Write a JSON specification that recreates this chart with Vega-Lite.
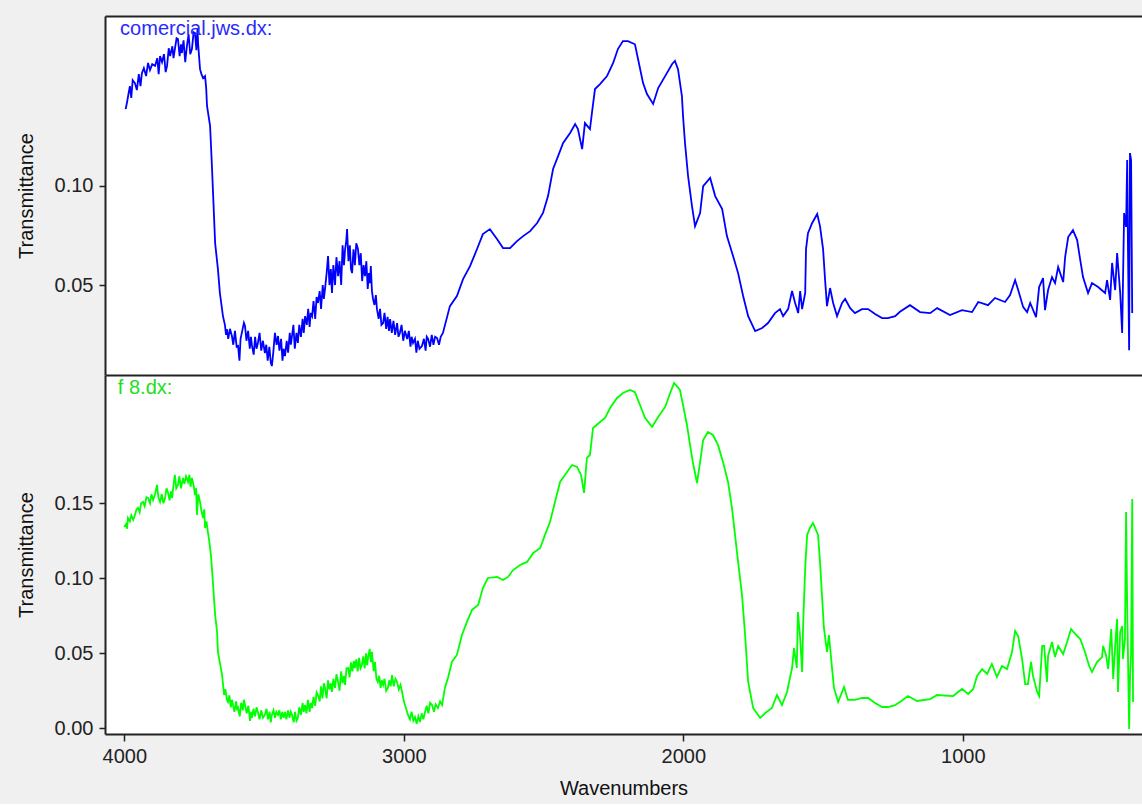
{
  "$schema": "https://vega.github.io/schema/vega-lite/v6.json",
  "background": "#f0f0f0",
  "padding": {"left": 16, "top": 16, "right": 0, "bottom": 6},
  "spacing": 0,
  "config": {
    "font": "Liberation Sans",
    "view": {"stroke": null, "fill": "white"},
    "axis": {
      "grid": false,
      "domainColor": "#222222",
      "domainWidth": 2,
      "tickColor": "#222222",
      "tickWidth": 1.5,
      "tickSize": 6,
      "labelFont": "Liberation Sans",
      "labelFontSize": 20,
      "labelColor": "#222222",
      "titleFont": "Liberation Sans",
      "titleFontSize": 20,
      "titleFontWeight": "normal",
      "titleColor": "#111111"
    }
  },
  "datasets": {
    "labels": [
      {"panel": "comercial", "label": "comercial.jws.dx:", "wavenumber": 4015, "transmittance": 0.1786},
      {"panel": "f8", "label": "f 8.dx:", "wavenumber": 4023, "transmittance": 0.2269}
    ],
    "comercial": [
      {"wavenumber": 3995, "transmittance": 0.1384},
      {"wavenumber": 3990, "transmittance": 0.1420},
      {"wavenumber": 3985, "transmittance": 0.1460},
      {"wavenumber": 3980, "transmittance": 0.1500},
      {"wavenumber": 3975, "transmittance": 0.1440},
      {"wavenumber": 3970, "transmittance": 0.1530},
      {"wavenumber": 3962, "transmittance": 0.1515},
      {"wavenumber": 3955, "transmittance": 0.1480},
      {"wavenumber": 3948, "transmittance": 0.1560},
      {"wavenumber": 3942, "transmittance": 0.1500},
      {"wavenumber": 3937, "transmittance": 0.1565},
      {"wavenumber": 3930, "transmittance": 0.1590},
      {"wavenumber": 3922, "transmittance": 0.1550},
      {"wavenumber": 3915, "transmittance": 0.1616},
      {"wavenumber": 3908, "transmittance": 0.1580},
      {"wavenumber": 3900, "transmittance": 0.1610},
      {"wavenumber": 3890, "transmittance": 0.1601},
      {"wavenumber": 3882, "transmittance": 0.1640},
      {"wavenumber": 3877, "transmittance": 0.1560},
      {"wavenumber": 3872, "transmittance": 0.1651},
      {"wavenumber": 3865, "transmittance": 0.1620},
      {"wavenumber": 3858, "transmittance": 0.1660},
      {"wavenumber": 3852, "transmittance": 0.1570},
      {"wavenumber": 3847, "transmittance": 0.1601},
      {"wavenumber": 3841, "transmittance": 0.1690},
      {"wavenumber": 3836, "transmittance": 0.1651},
      {"wavenumber": 3828, "transmittance": 0.1700},
      {"wavenumber": 3824, "transmittance": 0.1640},
      {"wavenumber": 3819, "transmittance": 0.1686},
      {"wavenumber": 3813, "transmittance": 0.1740},
      {"wavenumber": 3808, "transmittance": 0.1736},
      {"wavenumber": 3802, "transmittance": 0.1650},
      {"wavenumber": 3797, "transmittance": 0.1710},
      {"wavenumber": 3794, "transmittance": 0.1666},
      {"wavenumber": 3788, "transmittance": 0.1730},
      {"wavenumber": 3782, "transmittance": 0.1620},
      {"wavenumber": 3776, "transmittance": 0.1701},
      {"wavenumber": 3770, "transmittance": 0.1760},
      {"wavenumber": 3764, "transmittance": 0.1660},
      {"wavenumber": 3758, "transmittance": 0.1686},
      {"wavenumber": 3752, "transmittance": 0.1770},
      {"wavenumber": 3747, "transmittance": 0.1766},
      {"wavenumber": 3742, "transmittance": 0.1680},
      {"wavenumber": 3738, "transmittance": 0.1790},
      {"wavenumber": 3736, "transmittance": 0.1716},
      {"wavenumber": 3732, "transmittance": 0.1640},
      {"wavenumber": 3729, "transmittance": 0.1585},
      {"wavenumber": 3724, "transmittance": 0.1560},
      {"wavenumber": 3718, "transmittance": 0.1540},
      {"wavenumber": 3711, "transmittance": 0.1550},
      {"wavenumber": 3707, "transmittance": 0.1490},
      {"wavenumber": 3704, "transmittance": 0.1400},
      {"wavenumber": 3693, "transmittance": 0.1299},
      {"wavenumber": 3686, "transmittance": 0.1083},
      {"wavenumber": 3683, "transmittance": 0.0982},
      {"wavenumber": 3675, "transmittance": 0.0711},
      {"wavenumber": 3665, "transmittance": 0.0580},
      {"wavenumber": 3658, "transmittance": 0.0460},
      {"wavenumber": 3647, "transmittance": 0.0344},
      {"wavenumber": 3640, "transmittance": 0.0300},
      {"wavenumber": 3636, "transmittance": 0.0250},
      {"wavenumber": 3633, "transmittance": 0.0279},
      {"wavenumber": 3628, "transmittance": 0.0230},
      {"wavenumber": 3622, "transmittance": 0.0280},
      {"wavenumber": 3615, "transmittance": 0.0244},
      {"wavenumber": 3610, "transmittance": 0.0200},
      {"wavenumber": 3604, "transmittance": 0.0270},
      {"wavenumber": 3598, "transmittance": 0.0190},
      {"wavenumber": 3593, "transmittance": 0.0194},
      {"wavenumber": 3588, "transmittance": 0.0120},
      {"wavenumber": 3584, "transmittance": 0.0230},
      {"wavenumber": 3578, "transmittance": 0.0270},
      {"wavenumber": 3572, "transmittance": 0.0310},
      {"wavenumber": 3568, "transmittance": 0.0294},
      {"wavenumber": 3563, "transmittance": 0.0220},
      {"wavenumber": 3557, "transmittance": 0.0270},
      {"wavenumber": 3551, "transmittance": 0.0180},
      {"wavenumber": 3547, "transmittance": 0.0240},
      {"wavenumber": 3543, "transmittance": 0.0194},
      {"wavenumber": 3537, "transmittance": 0.0150},
      {"wavenumber": 3532, "transmittance": 0.0240},
      {"wavenumber": 3527, "transmittance": 0.0180},
      {"wavenumber": 3522, "transmittance": 0.0209},
      {"wavenumber": 3516, "transmittance": 0.0260},
      {"wavenumber": 3510, "transmittance": 0.0170},
      {"wavenumber": 3504, "transmittance": 0.0220},
      {"wavenumber": 3497, "transmittance": 0.0158},
      {"wavenumber": 3492, "transmittance": 0.0200},
      {"wavenumber": 3487, "transmittance": 0.0120},
      {"wavenumber": 3481, "transmittance": 0.0190},
      {"wavenumber": 3476, "transmittance": 0.0110},
      {"wavenumber": 3472, "transmittance": 0.0093},
      {"wavenumber": 3467, "transmittance": 0.0160},
      {"wavenumber": 3461, "transmittance": 0.0260},
      {"wavenumber": 3455, "transmittance": 0.0200},
      {"wavenumber": 3450, "transmittance": 0.0244},
      {"wavenumber": 3445, "transmittance": 0.0170},
      {"wavenumber": 3439, "transmittance": 0.0230},
      {"wavenumber": 3434, "transmittance": 0.0120},
      {"wavenumber": 3430, "transmittance": 0.0180},
      {"wavenumber": 3425, "transmittance": 0.0143},
      {"wavenumber": 3419, "transmittance": 0.0220},
      {"wavenumber": 3414, "transmittance": 0.0160},
      {"wavenumber": 3408, "transmittance": 0.0260},
      {"wavenumber": 3404, "transmittance": 0.0200},
      {"wavenumber": 3400, "transmittance": 0.0244},
      {"wavenumber": 3395, "transmittance": 0.0300},
      {"wavenumber": 3390, "transmittance": 0.0180},
      {"wavenumber": 3384, "transmittance": 0.0260},
      {"wavenumber": 3379, "transmittance": 0.0209},
      {"wavenumber": 3374, "transmittance": 0.0300},
      {"wavenumber": 3368, "transmittance": 0.0240},
      {"wavenumber": 3362, "transmittance": 0.0330},
      {"wavenumber": 3358, "transmittance": 0.0260},
      {"wavenumber": 3353, "transmittance": 0.0344},
      {"wavenumber": 3347, "transmittance": 0.0300},
      {"wavenumber": 3342, "transmittance": 0.0380},
      {"wavenumber": 3337, "transmittance": 0.0290},
      {"wavenumber": 3333, "transmittance": 0.0360},
      {"wavenumber": 3328, "transmittance": 0.0344},
      {"wavenumber": 3323, "transmittance": 0.0420},
      {"wavenumber": 3317, "transmittance": 0.0330},
      {"wavenumber": 3312, "transmittance": 0.0440},
      {"wavenumber": 3307, "transmittance": 0.0410},
      {"wavenumber": 3301, "transmittance": 0.0470},
      {"wavenumber": 3296, "transmittance": 0.0380},
      {"wavenumber": 3290, "transmittance": 0.0500},
      {"wavenumber": 3286, "transmittance": 0.0430},
      {"wavenumber": 3282, "transmittance": 0.0480},
      {"wavenumber": 3276, "transmittance": 0.0560},
      {"wavenumber": 3271, "transmittance": 0.0646},
      {"wavenumber": 3266, "transmittance": 0.0500},
      {"wavenumber": 3261, "transmittance": 0.0580},
      {"wavenumber": 3257, "transmittance": 0.0460},
      {"wavenumber": 3252, "transmittance": 0.0600},
      {"wavenumber": 3246, "transmittance": 0.0500},
      {"wavenumber": 3241, "transmittance": 0.0640},
      {"wavenumber": 3235, "transmittance": 0.0545},
      {"wavenumber": 3230, "transmittance": 0.0620},
      {"wavenumber": 3224, "transmittance": 0.0500},
      {"wavenumber": 3219, "transmittance": 0.0700},
      {"wavenumber": 3214, "transmittance": 0.0600},
      {"wavenumber": 3210, "transmittance": 0.0681},
      {"wavenumber": 3206, "transmittance": 0.0720},
      {"wavenumber": 3203, "transmittance": 0.0781},
      {"wavenumber": 3198, "transmittance": 0.0620},
      {"wavenumber": 3193, "transmittance": 0.0700},
      {"wavenumber": 3189, "transmittance": 0.0580},
      {"wavenumber": 3185, "transmittance": 0.0560},
      {"wavenumber": 3180, "transmittance": 0.0680},
      {"wavenumber": 3175, "transmittance": 0.0600},
      {"wavenumber": 3170, "transmittance": 0.0710},
      {"wavenumber": 3164, "transmittance": 0.0681},
      {"wavenumber": 3159, "transmittance": 0.0600},
      {"wavenumber": 3154, "transmittance": 0.0660},
      {"wavenumber": 3149, "transmittance": 0.0520},
      {"wavenumber": 3144, "transmittance": 0.0600},
      {"wavenumber": 3139, "transmittance": 0.0545},
      {"wavenumber": 3134, "transmittance": 0.0620},
      {"wavenumber": 3129, "transmittance": 0.0480},
      {"wavenumber": 3125, "transmittance": 0.0560},
      {"wavenumber": 3121, "transmittance": 0.0510},
      {"wavenumber": 3118, "transmittance": 0.0595},
      {"wavenumber": 3114, "transmittance": 0.0470},
      {"wavenumber": 3110, "transmittance": 0.0430},
      {"wavenumber": 3105, "transmittance": 0.0400},
      {"wavenumber": 3100, "transmittance": 0.0450},
      {"wavenumber": 3096, "transmittance": 0.0379},
      {"wavenumber": 3090, "transmittance": 0.0330},
      {"wavenumber": 3085, "transmittance": 0.0380},
      {"wavenumber": 3080, "transmittance": 0.0300},
      {"wavenumber": 3074, "transmittance": 0.0309},
      {"wavenumber": 3069, "transmittance": 0.0360},
      {"wavenumber": 3063, "transmittance": 0.0280},
      {"wavenumber": 3058, "transmittance": 0.0340},
      {"wavenumber": 3053, "transmittance": 0.0270},
      {"wavenumber": 3049, "transmittance": 0.0329},
      {"wavenumber": 3043, "transmittance": 0.0260},
      {"wavenumber": 3037, "transmittance": 0.0320},
      {"wavenumber": 3031, "transmittance": 0.0250},
      {"wavenumber": 3024, "transmittance": 0.0309},
      {"wavenumber": 3019, "transmittance": 0.0240},
      {"wavenumber": 3014, "transmittance": 0.0259},
      {"wavenumber": 3008, "transmittance": 0.0300},
      {"wavenumber": 3002, "transmittance": 0.0220},
      {"wavenumber": 2996, "transmittance": 0.0270},
      {"wavenumber": 2988, "transmittance": 0.0229},
      {"wavenumber": 2982, "transmittance": 0.0270},
      {"wavenumber": 2976, "transmittance": 0.0190},
      {"wavenumber": 2972, "transmittance": 0.0240},
      {"wavenumber": 2967, "transmittance": 0.0209},
      {"wavenumber": 2960, "transmittance": 0.0230},
      {"wavenumber": 2955, "transmittance": 0.0160},
      {"wavenumber": 2950, "transmittance": 0.0220},
      {"wavenumber": 2944, "transmittance": 0.0180},
      {"wavenumber": 2935, "transmittance": 0.0194},
      {"wavenumber": 2928, "transmittance": 0.0230},
      {"wavenumber": 2922, "transmittance": 0.0170},
      {"wavenumber": 2918, "transmittance": 0.0240},
      {"wavenumber": 2913, "transmittance": 0.0229},
      {"wavenumber": 2906, "transmittance": 0.0190},
      {"wavenumber": 2900, "transmittance": 0.0250},
      {"wavenumber": 2894, "transmittance": 0.0200},
      {"wavenumber": 2888, "transmittance": 0.0240},
      {"wavenumber": 2881, "transmittance": 0.0234},
      {"wavenumber": 2874, "transmittance": 0.0200},
      {"wavenumber": 2868, "transmittance": 0.0240},
      {"wavenumber": 2860, "transmittance": 0.0259},
      {"wavenumber": 2835, "transmittance": 0.0394},
      {"wavenumber": 2810, "transmittance": 0.0445},
      {"wavenumber": 2788, "transmittance": 0.0530},
      {"wavenumber": 2763, "transmittance": 0.0595},
      {"wavenumber": 2738, "transmittance": 0.0681},
      {"wavenumber": 2717, "transmittance": 0.0756},
      {"wavenumber": 2692, "transmittance": 0.0781},
      {"wavenumber": 2666, "transmittance": 0.0730},
      {"wavenumber": 2645, "transmittance": 0.0686},
      {"wavenumber": 2620, "transmittance": 0.0686},
      {"wavenumber": 2595, "transmittance": 0.0721},
      {"wavenumber": 2573, "transmittance": 0.0746},
      {"wavenumber": 2548, "transmittance": 0.0771},
      {"wavenumber": 2523, "transmittance": 0.0812},
      {"wavenumber": 2502, "transmittance": 0.0862},
      {"wavenumber": 2484, "transmittance": 0.0947},
      {"wavenumber": 2466, "transmittance": 0.1083},
      {"wavenumber": 2448, "transmittance": 0.1148},
      {"wavenumber": 2430, "transmittance": 0.1214},
      {"wavenumber": 2405, "transmittance": 0.1264},
      {"wavenumber": 2387, "transmittance": 0.1309},
      {"wavenumber": 2377, "transmittance": 0.1284},
      {"wavenumber": 2362, "transmittance": 0.1183},
      {"wavenumber": 2352, "transmittance": 0.1314},
      {"wavenumber": 2334, "transmittance": 0.1284},
      {"wavenumber": 2327, "transmittance": 0.1364},
      {"wavenumber": 2316, "transmittance": 0.1485},
      {"wavenumber": 2298, "transmittance": 0.1510},
      {"wavenumber": 2273, "transmittance": 0.1550},
      {"wavenumber": 2251, "transmittance": 0.1616},
      {"wavenumber": 2234, "transmittance": 0.1686},
      {"wavenumber": 2216, "transmittance": 0.1726},
      {"wavenumber": 2198, "transmittance": 0.1726},
      {"wavenumber": 2173, "transmittance": 0.1710},
      {"wavenumber": 2162, "transmittance": 0.1636},
      {"wavenumber": 2144, "transmittance": 0.1515},
      {"wavenumber": 2130, "transmittance": 0.1460},
      {"wavenumber": 2108, "transmittance": 0.1410},
      {"wavenumber": 2090, "transmittance": 0.1490},
      {"wavenumber": 2065, "transmittance": 0.1550},
      {"wavenumber": 2040, "transmittance": 0.1611},
      {"wavenumber": 2030, "transmittance": 0.1626},
      {"wavenumber": 2019, "transmittance": 0.1585},
      {"wavenumber": 2005, "transmittance": 0.1450},
      {"wavenumber": 2001, "transmittance": 0.1349},
      {"wavenumber": 1994, "transmittance": 0.1214},
      {"wavenumber": 1983, "transmittance": 0.1048},
      {"wavenumber": 1969, "transmittance": 0.0897},
      {"wavenumber": 1958, "transmittance": 0.0796},
      {"wavenumber": 1940, "transmittance": 0.0862},
      {"wavenumber": 1929, "transmittance": 0.0997},
      {"wavenumber": 1904, "transmittance": 0.1038},
      {"wavenumber": 1886, "transmittance": 0.0947},
      {"wavenumber": 1861, "transmittance": 0.0882},
      {"wavenumber": 1844, "transmittance": 0.0746},
      {"wavenumber": 1822, "transmittance": 0.0646},
      {"wavenumber": 1804, "transmittance": 0.0560},
      {"wavenumber": 1786, "transmittance": 0.0445},
      {"wavenumber": 1768, "transmittance": 0.0344},
      {"wavenumber": 1743, "transmittance": 0.0269},
      {"wavenumber": 1718, "transmittance": 0.0284},
      {"wavenumber": 1697, "transmittance": 0.0309},
      {"wavenumber": 1672, "transmittance": 0.0359},
      {"wavenumber": 1654, "transmittance": 0.0379},
      {"wavenumber": 1643, "transmittance": 0.0344},
      {"wavenumber": 1625, "transmittance": 0.0379},
      {"wavenumber": 1611, "transmittance": 0.0470},
      {"wavenumber": 1600, "transmittance": 0.0410},
      {"wavenumber": 1589, "transmittance": 0.0359},
      {"wavenumber": 1582, "transmittance": 0.0470},
      {"wavenumber": 1575, "transmittance": 0.0379},
      {"wavenumber": 1564, "transmittance": 0.0460},
      {"wavenumber": 1561, "transmittance": 0.0681},
      {"wavenumber": 1554, "transmittance": 0.0761},
      {"wavenumber": 1539, "transmittance": 0.0812},
      {"wavenumber": 1521, "transmittance": 0.0857},
      {"wavenumber": 1511, "transmittance": 0.0796},
      {"wavenumber": 1500, "transmittance": 0.0681},
      {"wavenumber": 1493, "transmittance": 0.0530},
      {"wavenumber": 1486, "transmittance": 0.0394},
      {"wavenumber": 1475, "transmittance": 0.0485},
      {"wavenumber": 1464, "transmittance": 0.0410},
      {"wavenumber": 1450, "transmittance": 0.0344},
      {"wavenumber": 1432, "transmittance": 0.0410},
      {"wavenumber": 1421, "transmittance": 0.0430},
      {"wavenumber": 1403, "transmittance": 0.0384},
      {"wavenumber": 1386, "transmittance": 0.0359},
      {"wavenumber": 1361, "transmittance": 0.0379},
      {"wavenumber": 1339, "transmittance": 0.0379},
      {"wavenumber": 1314, "transmittance": 0.0354},
      {"wavenumber": 1289, "transmittance": 0.0334},
      {"wavenumber": 1268, "transmittance": 0.0334},
      {"wavenumber": 1242, "transmittance": 0.0344},
      {"wavenumber": 1225, "transmittance": 0.0366},
      {"wavenumber": 1189, "transmittance": 0.0399},
      {"wavenumber": 1153, "transmittance": 0.0364},
      {"wavenumber": 1117, "transmittance": 0.0359},
      {"wavenumber": 1092, "transmittance": 0.0384},
      {"wavenumber": 1046, "transmittance": 0.0349},
      {"wavenumber": 1003, "transmittance": 0.0374},
      {"wavenumber": 967, "transmittance": 0.0364},
      {"wavenumber": 945, "transmittance": 0.0415},
      {"wavenumber": 910, "transmittance": 0.0399},
      {"wavenumber": 885, "transmittance": 0.0435},
      {"wavenumber": 849, "transmittance": 0.0415},
      {"wavenumber": 831, "transmittance": 0.0450},
      {"wavenumber": 813, "transmittance": 0.0525},
      {"wavenumber": 802, "transmittance": 0.0475},
      {"wavenumber": 784, "transmittance": 0.0389},
      {"wavenumber": 770, "transmittance": 0.0364},
      {"wavenumber": 759, "transmittance": 0.0410},
      {"wavenumber": 738, "transmittance": 0.0339},
      {"wavenumber": 727, "transmittance": 0.0490},
      {"wavenumber": 713, "transmittance": 0.0535},
      {"wavenumber": 706, "transmittance": 0.0374},
      {"wavenumber": 695, "transmittance": 0.0475},
      {"wavenumber": 681, "transmittance": 0.0540},
      {"wavenumber": 670, "transmittance": 0.0510},
      {"wavenumber": 659, "transmittance": 0.0590},
      {"wavenumber": 641, "transmittance": 0.0515},
      {"wavenumber": 634, "transmittance": 0.0641},
      {"wavenumber": 623, "transmittance": 0.0741},
      {"wavenumber": 606, "transmittance": 0.0776},
      {"wavenumber": 591, "transmittance": 0.0726},
      {"wavenumber": 580, "transmittance": 0.0626},
      {"wavenumber": 570, "transmittance": 0.0540},
      {"wavenumber": 552, "transmittance": 0.0460},
      {"wavenumber": 538, "transmittance": 0.0510},
      {"wavenumber": 516, "transmittance": 0.0490},
      {"wavenumber": 491, "transmittance": 0.0460},
      {"wavenumber": 484, "transmittance": 0.0525},
      {"wavenumber": 473, "transmittance": 0.0425},
      {"wavenumber": 466, "transmittance": 0.0611},
      {"wavenumber": 455, "transmittance": 0.0475},
      {"wavenumber": 448, "transmittance": 0.0661},
      {"wavenumber": 437, "transmittance": 0.0460},
      {"wavenumber": 430, "transmittance": 0.0259},
      {"wavenumber": 423, "transmittance": 0.0862},
      {"wavenumber": 416, "transmittance": 0.0792},
      {"wavenumber": 412, "transmittance": 0.1128},
      {"wavenumber": 409, "transmittance": 0.0661},
      {"wavenumber": 405, "transmittance": 0.0173},
      {"wavenumber": 402, "transmittance": 0.1163},
      {"wavenumber": 398, "transmittance": 0.1128},
      {"wavenumber": 394, "transmittance": 0.0359}
    ],
    "f8": [
      {"wavenumber": 4000, "transmittance": 0.1342},
      {"wavenumber": 3994, "transmittance": 0.1360},
      {"wavenumber": 3990, "transmittance": 0.1330},
      {"wavenumber": 3987, "transmittance": 0.1402},
      {"wavenumber": 3980, "transmittance": 0.1380},
      {"wavenumber": 3975, "transmittance": 0.1420},
      {"wavenumber": 3968, "transmittance": 0.1390},
      {"wavenumber": 3962, "transmittance": 0.1422},
      {"wavenumber": 3956, "transmittance": 0.1460},
      {"wavenumber": 3951, "transmittance": 0.1469},
      {"wavenumber": 3945, "transmittance": 0.1440},
      {"wavenumber": 3940, "transmittance": 0.1500},
      {"wavenumber": 3933, "transmittance": 0.1509},
      {"wavenumber": 3927, "transmittance": 0.1480},
      {"wavenumber": 3921, "transmittance": 0.1540},
      {"wavenumber": 3915, "transmittance": 0.1535},
      {"wavenumber": 3908, "transmittance": 0.1500},
      {"wavenumber": 3903, "transmittance": 0.1560},
      {"wavenumber": 3897, "transmittance": 0.1522},
      {"wavenumber": 3890, "transmittance": 0.1560},
      {"wavenumber": 3883, "transmittance": 0.1622},
      {"wavenumber": 3878, "transmittance": 0.1540},
      {"wavenumber": 3872, "transmittance": 0.1509},
      {"wavenumber": 3866, "transmittance": 0.1560},
      {"wavenumber": 3860, "transmittance": 0.1500},
      {"wavenumber": 3854, "transmittance": 0.1535},
      {"wavenumber": 3849, "transmittance": 0.1600},
      {"wavenumber": 3844, "transmittance": 0.1575},
      {"wavenumber": 3838, "transmittance": 0.1520},
      {"wavenumber": 3833, "transmittance": 0.1580},
      {"wavenumber": 3829, "transmittance": 0.1535},
      {"wavenumber": 3824, "transmittance": 0.1620},
      {"wavenumber": 3819, "transmittance": 0.1689},
      {"wavenumber": 3814, "transmittance": 0.1600},
      {"wavenumber": 3808, "transmittance": 0.1622},
      {"wavenumber": 3803, "transmittance": 0.1680},
      {"wavenumber": 3797, "transmittance": 0.1600},
      {"wavenumber": 3790, "transmittance": 0.1669},
      {"wavenumber": 3785, "transmittance": 0.1630},
      {"wavenumber": 3779, "transmittance": 0.1680},
      {"wavenumber": 3772, "transmittance": 0.1642},
      {"wavenumber": 3767, "transmittance": 0.1690},
      {"wavenumber": 3763, "transmittance": 0.1610},
      {"wavenumber": 3758, "transmittance": 0.1669},
      {"wavenumber": 3752, "transmittance": 0.1620},
      {"wavenumber": 3747, "transmittance": 0.1555},
      {"wavenumber": 3743, "transmittance": 0.1600},
      {"wavenumber": 3740, "transmittance": 0.1422},
      {"wavenumber": 3735, "transmittance": 0.1560},
      {"wavenumber": 3729, "transmittance": 0.1509},
      {"wavenumber": 3724, "transmittance": 0.1450},
      {"wavenumber": 3718, "transmittance": 0.1402},
      {"wavenumber": 3714, "transmittance": 0.1460},
      {"wavenumber": 3711, "transmittance": 0.1335},
      {"wavenumber": 3706, "transmittance": 0.1380},
      {"wavenumber": 3701, "transmittance": 0.1309},
      {"wavenumber": 3696, "transmittance": 0.1250},
      {"wavenumber": 3690, "transmittance": 0.1155},
      {"wavenumber": 3683, "transmittance": 0.0975},
      {"wavenumber": 3675, "transmittance": 0.0755},
      {"wavenumber": 3668, "transmittance": 0.0642},
      {"wavenumber": 3665, "transmittance": 0.0509},
      {"wavenumber": 3650, "transmittance": 0.0355},
      {"wavenumber": 3646, "transmittance": 0.0280},
      {"wavenumber": 3643, "transmittance": 0.0222},
      {"wavenumber": 3638, "transmittance": 0.0260},
      {"wavenumber": 3633, "transmittance": 0.0190},
      {"wavenumber": 3629, "transmittance": 0.0175},
      {"wavenumber": 3624, "transmittance": 0.0220},
      {"wavenumber": 3619, "transmittance": 0.0140},
      {"wavenumber": 3615, "transmittance": 0.0190},
      {"wavenumber": 3611, "transmittance": 0.0155},
      {"wavenumber": 3606, "transmittance": 0.0110},
      {"wavenumber": 3600, "transmittance": 0.0180},
      {"wavenumber": 3596, "transmittance": 0.0120},
      {"wavenumber": 3593, "transmittance": 0.0135},
      {"wavenumber": 3587, "transmittance": 0.0080},
      {"wavenumber": 3582, "transmittance": 0.0170},
      {"wavenumber": 3576, "transmittance": 0.0120},
      {"wavenumber": 3572, "transmittance": 0.0190},
      {"wavenumber": 3568, "transmittance": 0.0155},
      {"wavenumber": 3562, "transmittance": 0.0100},
      {"wavenumber": 3556, "transmittance": 0.0150},
      {"wavenumber": 3550, "transmittance": 0.0050},
      {"wavenumber": 3546, "transmittance": 0.0110},
      {"wavenumber": 3543, "transmittance": 0.0069},
      {"wavenumber": 3538, "transmittance": 0.0130},
      {"wavenumber": 3532, "transmittance": 0.0080},
      {"wavenumber": 3527, "transmittance": 0.0140},
      {"wavenumber": 3522, "transmittance": 0.0109},
      {"wavenumber": 3516, "transmittance": 0.0060},
      {"wavenumber": 3510, "transmittance": 0.0120},
      {"wavenumber": 3504, "transmittance": 0.0070},
      {"wavenumber": 3497, "transmittance": 0.0089},
      {"wavenumber": 3491, "transmittance": 0.0130},
      {"wavenumber": 3486, "transmittance": 0.0060},
      {"wavenumber": 3480, "transmittance": 0.0110},
      {"wavenumber": 3476, "transmittance": 0.0040},
      {"wavenumber": 3472, "transmittance": 0.0089},
      {"wavenumber": 3466, "transmittance": 0.0120},
      {"wavenumber": 3461, "transmittance": 0.0070},
      {"wavenumber": 3456, "transmittance": 0.0110},
      {"wavenumber": 3450, "transmittance": 0.0089},
      {"wavenumber": 3445, "transmittance": 0.0120},
      {"wavenumber": 3440, "transmittance": 0.0060},
      {"wavenumber": 3435, "transmittance": 0.0110},
      {"wavenumber": 3430, "transmittance": 0.0070},
      {"wavenumber": 3425, "transmittance": 0.0109},
      {"wavenumber": 3420, "transmittance": 0.0060},
      {"wavenumber": 3414, "transmittance": 0.0120},
      {"wavenumber": 3409, "transmittance": 0.0070},
      {"wavenumber": 3404, "transmittance": 0.0110},
      {"wavenumber": 3400, "transmittance": 0.0089},
      {"wavenumber": 3394, "transmittance": 0.0040},
      {"wavenumber": 3389, "transmittance": 0.0110},
      {"wavenumber": 3384, "transmittance": 0.0050},
      {"wavenumber": 3379, "transmittance": 0.0069},
      {"wavenumber": 3374, "transmittance": 0.0140},
      {"wavenumber": 3368, "transmittance": 0.0090},
      {"wavenumber": 3362, "transmittance": 0.0170},
      {"wavenumber": 3358, "transmittance": 0.0110},
      {"wavenumber": 3353, "transmittance": 0.0155},
      {"wavenumber": 3348, "transmittance": 0.0100},
      {"wavenumber": 3343, "transmittance": 0.0190},
      {"wavenumber": 3337, "transmittance": 0.0110},
      {"wavenumber": 3333, "transmittance": 0.0170},
      {"wavenumber": 3328, "transmittance": 0.0135},
      {"wavenumber": 3323, "transmittance": 0.0210},
      {"wavenumber": 3317, "transmittance": 0.0150},
      {"wavenumber": 3312, "transmittance": 0.0240},
      {"wavenumber": 3307, "transmittance": 0.0222},
      {"wavenumber": 3301, "transmittance": 0.0180},
      {"wavenumber": 3296, "transmittance": 0.0280},
      {"wavenumber": 3291, "transmittance": 0.0200},
      {"wavenumber": 3286, "transmittance": 0.0300},
      {"wavenumber": 3282, "transmittance": 0.0269},
      {"wavenumber": 3276, "transmittance": 0.0200},
      {"wavenumber": 3271, "transmittance": 0.0320},
      {"wavenumber": 3266, "transmittance": 0.0260},
      {"wavenumber": 3261, "transmittance": 0.0300},
      {"wavenumber": 3257, "transmittance": 0.0242},
      {"wavenumber": 3252, "transmittance": 0.0330},
      {"wavenumber": 3246, "transmittance": 0.0270},
      {"wavenumber": 3241, "transmittance": 0.0360},
      {"wavenumber": 3235, "transmittance": 0.0309},
      {"wavenumber": 3230, "transmittance": 0.0250},
      {"wavenumber": 3224, "transmittance": 0.0380},
      {"wavenumber": 3219, "transmittance": 0.0300},
      {"wavenumber": 3214, "transmittance": 0.0350},
      {"wavenumber": 3210, "transmittance": 0.0289},
      {"wavenumber": 3205, "transmittance": 0.0400},
      {"wavenumber": 3199, "transmittance": 0.0402},
      {"wavenumber": 3194, "transmittance": 0.0340},
      {"wavenumber": 3189, "transmittance": 0.0440},
      {"wavenumber": 3184, "transmittance": 0.0380},
      {"wavenumber": 3179, "transmittance": 0.0450},
      {"wavenumber": 3175, "transmittance": 0.0402},
      {"wavenumber": 3170, "transmittance": 0.0460},
      {"wavenumber": 3165, "transmittance": 0.0380},
      {"wavenumber": 3160, "transmittance": 0.0470},
      {"wavenumber": 3155, "transmittance": 0.0400},
      {"wavenumber": 3150, "transmittance": 0.0422},
      {"wavenumber": 3145, "transmittance": 0.0480},
      {"wavenumber": 3140, "transmittance": 0.0400},
      {"wavenumber": 3135, "transmittance": 0.0500},
      {"wavenumber": 3131, "transmittance": 0.0420},
      {"wavenumber": 3128, "transmittance": 0.0469},
      {"wavenumber": 3122, "transmittance": 0.0530},
      {"wavenumber": 3118, "transmittance": 0.0440},
      {"wavenumber": 3114, "transmittance": 0.0509},
      {"wavenumber": 3108, "transmittance": 0.0380},
      {"wavenumber": 3103, "transmittance": 0.0442},
      {"wavenumber": 3098, "transmittance": 0.0330},
      {"wavenumber": 3093, "transmittance": 0.0309},
      {"wavenumber": 3088, "transmittance": 0.0350},
      {"wavenumber": 3083, "transmittance": 0.0270},
      {"wavenumber": 3079, "transmittance": 0.0320},
      {"wavenumber": 3074, "transmittance": 0.0289},
      {"wavenumber": 3069, "transmittance": 0.0330},
      {"wavenumber": 3063, "transmittance": 0.0250},
      {"wavenumber": 3057, "transmittance": 0.0269},
      {"wavenumber": 3052, "transmittance": 0.0320},
      {"wavenumber": 3047, "transmittance": 0.0280},
      {"wavenumber": 3042, "transmittance": 0.0355},
      {"wavenumber": 3036, "transmittance": 0.0280},
      {"wavenumber": 3030, "transmittance": 0.0330},
      {"wavenumber": 3024, "transmittance": 0.0309},
      {"wavenumber": 3018, "transmittance": 0.0260},
      {"wavenumber": 3012, "transmittance": 0.0290},
      {"wavenumber": 3006, "transmittance": 0.0242},
      {"wavenumber": 3001, "transmittance": 0.0190},
      {"wavenumber": 2996, "transmittance": 0.0155},
      {"wavenumber": 2990, "transmittance": 0.0120},
      {"wavenumber": 2985, "transmittance": 0.0089},
      {"wavenumber": 2978, "transmittance": 0.0060},
      {"wavenumber": 2972, "transmittance": 0.0110},
      {"wavenumber": 2966, "transmittance": 0.0050},
      {"wavenumber": 2960, "transmittance": 0.0075},
      {"wavenumber": 2954, "transmittance": 0.0030},
      {"wavenumber": 2948, "transmittance": 0.0080},
      {"wavenumber": 2942, "transmittance": 0.0042},
      {"wavenumber": 2936, "transmittance": 0.0100},
      {"wavenumber": 2930, "transmittance": 0.0060},
      {"wavenumber": 2924, "transmittance": 0.0109},
      {"wavenumber": 2918, "transmittance": 0.0150},
      {"wavenumber": 2912, "transmittance": 0.0100},
      {"wavenumber": 2906, "transmittance": 0.0170},
      {"wavenumber": 2899, "transmittance": 0.0155},
      {"wavenumber": 2892, "transmittance": 0.0110},
      {"wavenumber": 2886, "transmittance": 0.0160},
      {"wavenumber": 2878, "transmittance": 0.0135},
      {"wavenumber": 2870, "transmittance": 0.0180},
      {"wavenumber": 2863, "transmittance": 0.0155},
      {"wavenumber": 2853, "transmittance": 0.0269},
      {"wavenumber": 2842, "transmittance": 0.0335},
      {"wavenumber": 2828, "transmittance": 0.0442},
      {"wavenumber": 2810, "transmittance": 0.0489},
      {"wavenumber": 2792, "transmittance": 0.0622},
      {"wavenumber": 2774, "transmittance": 0.0709},
      {"wavenumber": 2756, "transmittance": 0.0789},
      {"wavenumber": 2734, "transmittance": 0.0822},
      {"wavenumber": 2717, "transmittance": 0.0935},
      {"wavenumber": 2699, "transmittance": 0.1002},
      {"wavenumber": 2666, "transmittance": 0.1009},
      {"wavenumber": 2645, "transmittance": 0.0989},
      {"wavenumber": 2627, "transmittance": 0.1009},
      {"wavenumber": 2609, "transmittance": 0.1055},
      {"wavenumber": 2584, "transmittance": 0.1089},
      {"wavenumber": 2559, "transmittance": 0.1109},
      {"wavenumber": 2537, "transmittance": 0.1169},
      {"wavenumber": 2512, "transmittance": 0.1202},
      {"wavenumber": 2495, "transmittance": 0.1289},
      {"wavenumber": 2477, "transmittance": 0.1375},
      {"wavenumber": 2459, "transmittance": 0.1509},
      {"wavenumber": 2441, "transmittance": 0.1642},
      {"wavenumber": 2416, "transmittance": 0.1709},
      {"wavenumber": 2398, "transmittance": 0.1755},
      {"wavenumber": 2380, "transmittance": 0.1742},
      {"wavenumber": 2366, "transmittance": 0.1689},
      {"wavenumber": 2355, "transmittance": 0.1569},
      {"wavenumber": 2345, "transmittance": 0.1802},
      {"wavenumber": 2334, "transmittance": 0.1822},
      {"wavenumber": 2323, "transmittance": 0.2002},
      {"wavenumber": 2298, "transmittance": 0.2042},
      {"wavenumber": 2280, "transmittance": 0.2069},
      {"wavenumber": 2262, "transmittance": 0.2135},
      {"wavenumber": 2237, "transmittance": 0.2202},
      {"wavenumber": 2216, "transmittance": 0.2235},
      {"wavenumber": 2191, "transmittance": 0.2255},
      {"wavenumber": 2173, "transmittance": 0.2240},
      {"wavenumber": 2155, "transmittance": 0.2155},
      {"wavenumber": 2137, "transmittance": 0.2069},
      {"wavenumber": 2112, "transmittance": 0.2009},
      {"wavenumber": 2090, "transmittance": 0.2075},
      {"wavenumber": 2065, "transmittance": 0.2142},
      {"wavenumber": 2047, "transmittance": 0.2235},
      {"wavenumber": 2033, "transmittance": 0.2302},
      {"wavenumber": 2012, "transmittance": 0.2255},
      {"wavenumber": 2001, "transmittance": 0.2155},
      {"wavenumber": 1987, "transmittance": 0.2022},
      {"wavenumber": 1976, "transmittance": 0.1889},
      {"wavenumber": 1966, "transmittance": 0.1775},
      {"wavenumber": 1951, "transmittance": 0.1635},
      {"wavenumber": 1940, "transmittance": 0.1775},
      {"wavenumber": 1929, "transmittance": 0.1922},
      {"wavenumber": 1912, "transmittance": 0.1975},
      {"wavenumber": 1894, "transmittance": 0.1955},
      {"wavenumber": 1876, "transmittance": 0.1889},
      {"wavenumber": 1858, "transmittance": 0.1775},
      {"wavenumber": 1840, "transmittance": 0.1642},
      {"wavenumber": 1826, "transmittance": 0.1469},
      {"wavenumber": 1815, "transmittance": 0.1289},
      {"wavenumber": 1804, "transmittance": 0.1109},
      {"wavenumber": 1790, "transmittance": 0.0889},
      {"wavenumber": 1779, "transmittance": 0.0622},
      {"wavenumber": 1768, "transmittance": 0.0309},
      {"wavenumber": 1750, "transmittance": 0.0135},
      {"wavenumber": 1725, "transmittance": 0.0069},
      {"wavenumber": 1707, "transmittance": 0.0102},
      {"wavenumber": 1683, "transmittance": 0.0135},
      {"wavenumber": 1665, "transmittance": 0.0222},
      {"wavenumber": 1647, "transmittance": 0.0155},
      {"wavenumber": 1629, "transmittance": 0.0242},
      {"wavenumber": 1611, "transmittance": 0.0402},
      {"wavenumber": 1604, "transmittance": 0.0535},
      {"wavenumber": 1594, "transmittance": 0.0402},
      {"wavenumber": 1590, "transmittance": 0.0775},
      {"wavenumber": 1582, "transmittance": 0.0602},
      {"wavenumber": 1575, "transmittance": 0.0375},
      {"wavenumber": 1571, "transmittance": 0.0709},
      {"wavenumber": 1564, "transmittance": 0.1069},
      {"wavenumber": 1557, "transmittance": 0.1289},
      {"wavenumber": 1547, "transmittance": 0.1335},
      {"wavenumber": 1536, "transmittance": 0.1369},
      {"wavenumber": 1518, "transmittance": 0.1289},
      {"wavenumber": 1511, "transmittance": 0.1109},
      {"wavenumber": 1504, "transmittance": 0.0889},
      {"wavenumber": 1497, "transmittance": 0.0669},
      {"wavenumber": 1486, "transmittance": 0.0509},
      {"wavenumber": 1479, "transmittance": 0.0622},
      {"wavenumber": 1468, "transmittance": 0.0402},
      {"wavenumber": 1461, "transmittance": 0.0269},
      {"wavenumber": 1446, "transmittance": 0.0175},
      {"wavenumber": 1432, "transmittance": 0.0242},
      {"wavenumber": 1425, "transmittance": 0.0275},
      {"wavenumber": 1411, "transmittance": 0.0189},
      {"wavenumber": 1386, "transmittance": 0.0189},
      {"wavenumber": 1361, "transmittance": 0.0202},
      {"wavenumber": 1339, "transmittance": 0.0202},
      {"wavenumber": 1314, "transmittance": 0.0169},
      {"wavenumber": 1289, "transmittance": 0.0142},
      {"wavenumber": 1268, "transmittance": 0.0142},
      {"wavenumber": 1242, "transmittance": 0.0155},
      {"wavenumber": 1225, "transmittance": 0.0175},
      {"wavenumber": 1196, "transmittance": 0.0215},
      {"wavenumber": 1164, "transmittance": 0.0182},
      {"wavenumber": 1117, "transmittance": 0.0195},
      {"wavenumber": 1092, "transmittance": 0.0222},
      {"wavenumber": 1035, "transmittance": 0.0215},
      {"wavenumber": 1003, "transmittance": 0.0262},
      {"wavenumber": 981, "transmittance": 0.0229},
      {"wavenumber": 963, "transmittance": 0.0262},
      {"wavenumber": 949, "transmittance": 0.0349},
      {"wavenumber": 931, "transmittance": 0.0395},
      {"wavenumber": 913, "transmittance": 0.0362},
      {"wavenumber": 896, "transmittance": 0.0429},
      {"wavenumber": 878, "transmittance": 0.0342},
      {"wavenumber": 860, "transmittance": 0.0415},
      {"wavenumber": 842, "transmittance": 0.0395},
      {"wavenumber": 824, "transmittance": 0.0509},
      {"wavenumber": 813, "transmittance": 0.0649},
      {"wavenumber": 802, "transmittance": 0.0615},
      {"wavenumber": 788, "transmittance": 0.0462},
      {"wavenumber": 777, "transmittance": 0.0295},
      {"wavenumber": 767, "transmittance": 0.0295},
      {"wavenumber": 756, "transmittance": 0.0442},
      {"wavenumber": 749, "transmittance": 0.0349},
      {"wavenumber": 734, "transmittance": 0.0242},
      {"wavenumber": 727, "transmittance": 0.0215},
      {"wavenumber": 716, "transmittance": 0.0549},
      {"wavenumber": 709, "transmittance": 0.0549},
      {"wavenumber": 699, "transmittance": 0.0309},
      {"wavenumber": 695, "transmittance": 0.0482},
      {"wavenumber": 681, "transmittance": 0.0575},
      {"wavenumber": 670, "transmittance": 0.0475},
      {"wavenumber": 659, "transmittance": 0.0549},
      {"wavenumber": 641, "transmittance": 0.0495},
      {"wavenumber": 627, "transmittance": 0.0575},
      {"wavenumber": 613, "transmittance": 0.0662},
      {"wavenumber": 598, "transmittance": 0.0629},
      {"wavenumber": 580, "transmittance": 0.0595},
      {"wavenumber": 563, "transmittance": 0.0509},
      {"wavenumber": 548, "transmittance": 0.0415},
      {"wavenumber": 538, "transmittance": 0.0375},
      {"wavenumber": 520, "transmittance": 0.0442},
      {"wavenumber": 502, "transmittance": 0.0475},
      {"wavenumber": 498, "transmittance": 0.0549},
      {"wavenumber": 487, "transmittance": 0.0482},
      {"wavenumber": 480, "transmittance": 0.0395},
      {"wavenumber": 469, "transmittance": 0.0662},
      {"wavenumber": 462, "transmittance": 0.0329},
      {"wavenumber": 455, "transmittance": 0.0549},
      {"wavenumber": 448, "transmittance": 0.0729},
      {"wavenumber": 445, "transmittance": 0.0242},
      {"wavenumber": 437, "transmittance": 0.0642},
      {"wavenumber": 430, "transmittance": 0.0682},
      {"wavenumber": 427, "transmittance": 0.0462},
      {"wavenumber": 420, "transmittance": 0.0595},
      {"wavenumber": 416, "transmittance": 0.1442},
      {"wavenumber": 412, "transmittance": 0.0815},
      {"wavenumber": 405, "transmittance": -0.0005},
      {"wavenumber": 402, "transmittance": 0.0329},
      {"wavenumber": 398, "transmittance": 0.0509},
      {"wavenumber": 394, "transmittance": 0.1529},
      {"wavenumber": 391, "transmittance": 0.0175}
    ]
  },
  "vconcat": [
    {
      "width": 1037,
      "height": 359,
      "layer": [
        {
          "data": {"name": "comercial"},
          "mark": {"type": "line", "color": "#0000ff", "strokeWidth": 1.8, "clip": true},
          "encoding": {
            "x": {
              "field": "wavenumber",
              "type": "quantitative",
              "scale": {"domain": [359, 4069], "reverse": true, "nice": false, "zero": false},
              "axis": {"orient": "top", "labels": false, "ticks": false, "title": null}
            },
            "y": {
              "field": "transmittance",
              "type": "quantitative",
              "scale": {"domain": [0.0048, 0.1852], "nice": false, "zero": false},
              "axis": {"values": [0.05, 0.1], "format": ".2f", "title": "Transmittance", "labelPadding": 6, "titlePadding": 18}
            }
          }
        },
        {
          "data": {"name": "labels"},
          "transform": [{"filter": "datum.panel == 'comercial'"}],
          "mark": {"type": "text", "align": "left", "baseline": "middle", "fontSize": 20, "color": "#2a2aff"},
          "encoding": {
            "x": {"field": "wavenumber", "type": "quantitative"},
            "y": {"field": "transmittance", "type": "quantitative"},
            "text": {"field": "label"}
          }
        }
      ]
    },
    {
      "width": 1037,
      "height": 359,
      "layer": [
        {
          "data": {"name": "f8"},
          "mark": {"type": "line", "color": "#00ff00", "strokeWidth": 1.8, "clip": true},
          "encoding": {
            "x": {
              "field": "wavenumber",
              "type": "quantitative",
              "scale": {"domain": [359, 4069], "reverse": true, "nice": false, "zero": false},
              "axis": {"orient": "bottom", "values": [4000, 3000, 2000, 1000], "format": "d", "title": "Wavenumbers", "tickSize": 7, "labelPadding": 5, "titlePadding": 12}
            },
            "y": {
              "field": "transmittance",
              "type": "quantitative",
              "scale": {"domain": [-0.0038, 0.2355], "nice": false, "zero": false},
              "axis": {"values": [0, 0.05, 0.1, 0.15], "format": ".2f", "title": "Transmittance", "labelPadding": 6, "titlePadding": 18}
            }
          }
        },
        {
          "data": {"name": "labels"},
          "transform": [{"filter": "datum.panel == 'f8'"}],
          "mark": {"type": "text", "align": "left", "baseline": "middle", "fontSize": 20, "color": "#22dd22"},
          "encoding": {
            "x": {"field": "wavenumber", "type": "quantitative", "axis": {"orient": "top", "labels": false, "ticks": false, "title": null}},
            "y": {"field": "transmittance", "type": "quantitative"},
            "text": {"field": "label"}
          }
        }
      ],
      "resolve": {"axis": {"x": "independent"}}
    }
  ]
}
